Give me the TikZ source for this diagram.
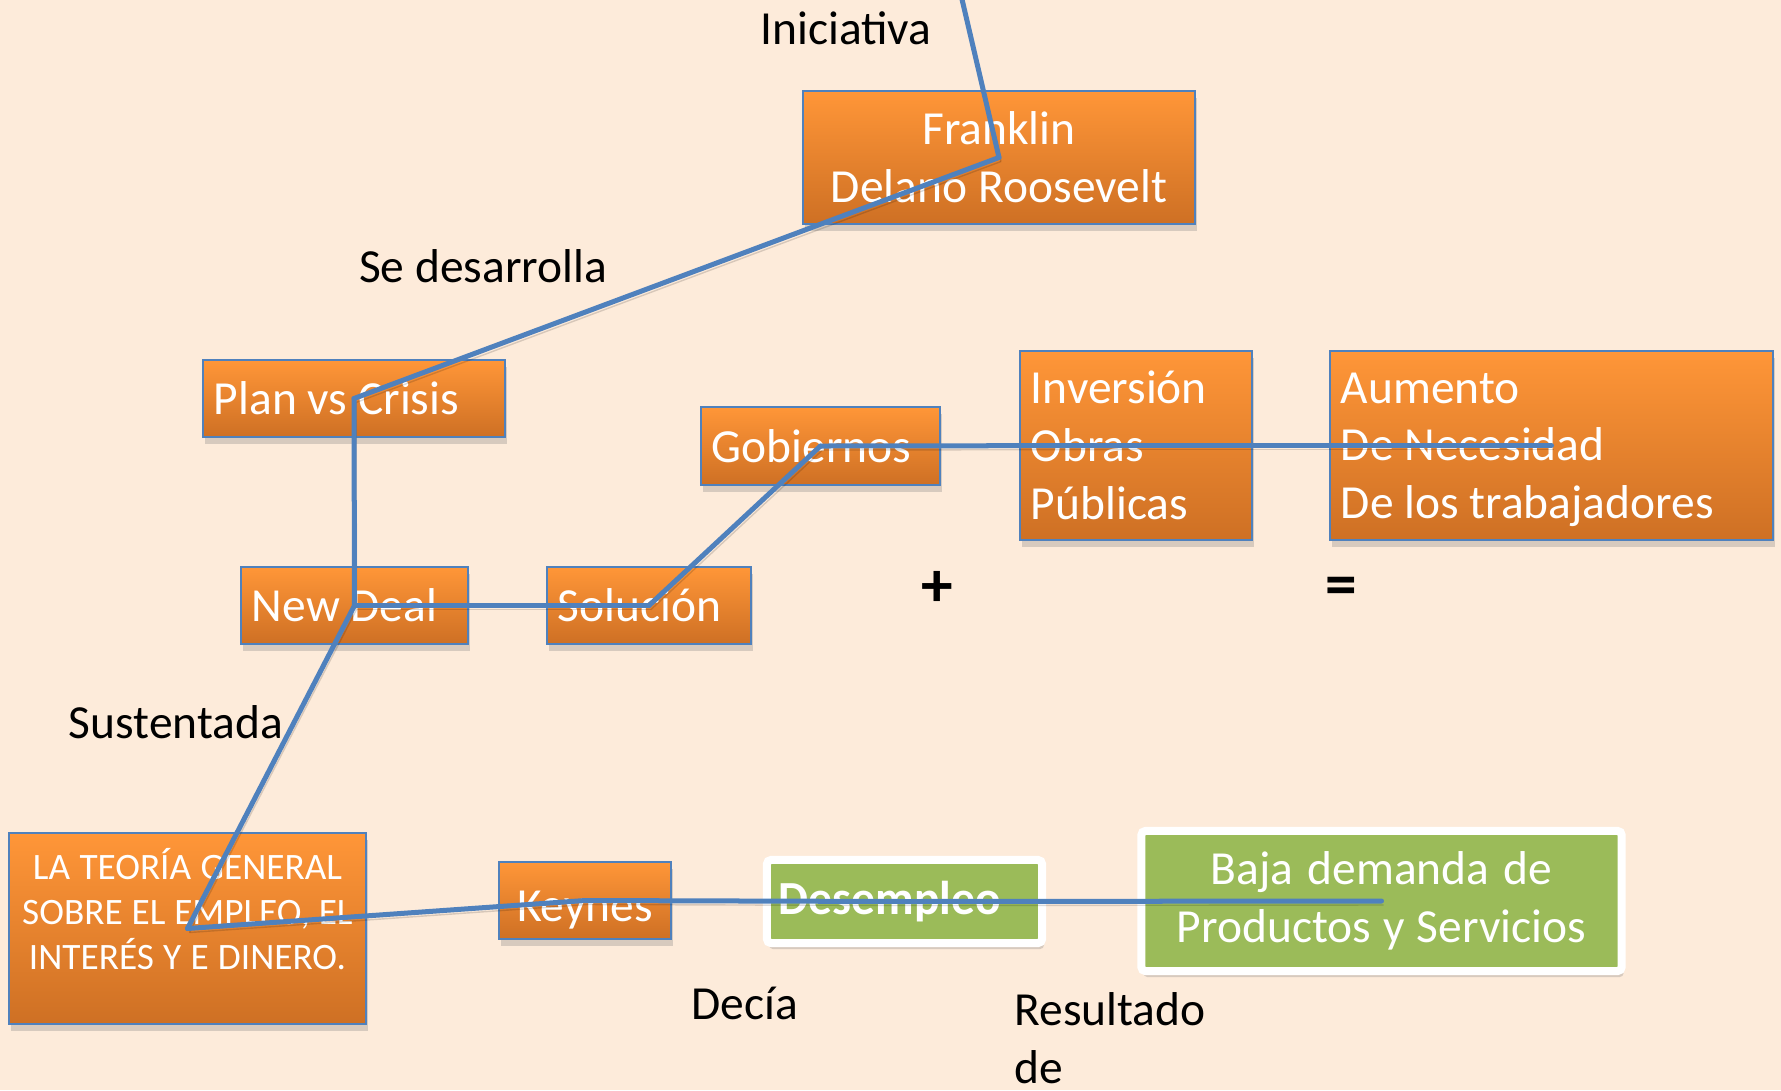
\documentclass[tikz,border=0pt]{standalone}
\usepackage{fontspec}
\setmainfont{Carlito}
\usetikzlibrary{shadows}
\definecolor{paper}{RGB}{253,235,218}
\definecolor{orangetop}{RGB}{255,150,56}
\definecolor{orangebot}{RGB}{206,112,36}
\definecolor{edgeblue}{RGB}{79,129,189}
\definecolor{leafgreen}{RGB}{155,187,89}

\begin{document}
\begin{tikzpicture}
[x=0.01cm,y=-0.01cm,
every node/.style={font=\fontsize{13.5}{16.4}\selectfont,
  execute at begin node={\spaceskip=0pt\xspaceskip=0pt}},
box/.style={draw=edgeblue,line width=0.02cm,top color=orangetop,bottom color=orangebot,
  text=white,inner xsep=0.11cm,inner ysep=0pt,align=left,
  drop shadow={shadow xshift=0.02cm,shadow yshift=-0.07cm,opacity=0.3}},
gbox/.style={draw=white,line width=0.08cm,fill=leafgreen,rounded corners=0.04cm,
  text=white,inner xsep=0.12cm,inner ysep=0pt,
  drop shadow={shadow xshift=0.02cm,shadow yshift=-0.06cm,opacity=0.3}},
sign/.style={font=\fontsize{18}{20}\selectfont\bfseries},
link/.style={draw=edgeblue,line width=0.05cm,line cap=round,
  preaction={draw=black,opacity=0.15,transform canvas={xshift=0.02cm,yshift=-0.04cm}}}]
\useasboundingbox[fill=paper] (0,0) rectangle (1781,1090);
\node (inic) at (846,28) {Iniciativa};
\node (desa) at (483,266) {Se desarrolla};
\node (sust) at (176,722) {Sustentada};
\node[sign] (plus) at (937.5,589) {+};
\node[sign] (equal) at (1341.5,591) {=};
\node (decia) at (745,1003) {Decía};
\node[align=left] (resul) at (1110,1038) {Resultado\\de};
\node[box,align=center,text width=3.70cm,minimum height=1.33cm] (franklin) at (999,157.5) {Franklin\\Delano Roosevelt};
\node[box,text width=2.80cm,minimum height=0.77cm] (plan) at (354,398.5) {Plan vs Crisis};
\node[box,text width=2.05cm,minimum height=0.77cm] (newdeal) at (354.5,605.5) {New Deal};
\node[box,text width=1.82cm,minimum height=0.77cm] (solucion) at (649,605.5) {Solución};
\node[box,text width=2.17cm,minimum height=0.78cm] (gobiernos) at (820.5,446) {Gobiernos};
\node[box,text width=2.10cm,minimum height=1.89cm] (inversion) at (1136,445.5) {Inversión\\Obras\\Públicas};
\node[box,text width=4.21cm,minimum height=1.89cm,text depth=32.8pt] (aumento) at (1551.5,445.5) {Aumento\\De Necesidad\\De los trabajadores};
\node[box,align=center,inner xsep=0.06cm,text width=3.45cm,minimum height=1.91cm,text depth=37pt,
  font=\fontsize{10.6}{12.8}\selectfont] (teoria) at (187.5,928.5)
  {LA TEORÍA GENERAL\\SOBRE EL EMPLEO, EL\\INTERÉS Y E DINERO.};
\node[box,align=center,text width=1.50cm,minimum height=0.77cm,text height=0.42cm,text depth=0pt] (keynes) at (585,900.5) {Keynes};
\node[gbox,text width=2.51cm,minimum height=0.83cm,font=\fontsize{13.5}{16.4}\selectfont\bfseries] (desempleo) at (904.5,901.5) {Desempleo};
\node[gbox,align=center,text width=4.56cm,minimum height=1.40cm] (baja) at (1381.5,901) {Baja demanda de\\Productos y Servicios};
\coordinate (top) at (961,-5);
\foreach \from/\to in {top/franklin,franklin/plan,plan/newdeal,newdeal/solucion,solucion/gobiernos,gobiernos/inversion,inversion/aumento,newdeal/teoria,teoria/keynes,keynes/desempleo,desempleo/baja}
\draw[link] (\from.center) -- (\to.center);
\end{tikzpicture}
\end{document}
